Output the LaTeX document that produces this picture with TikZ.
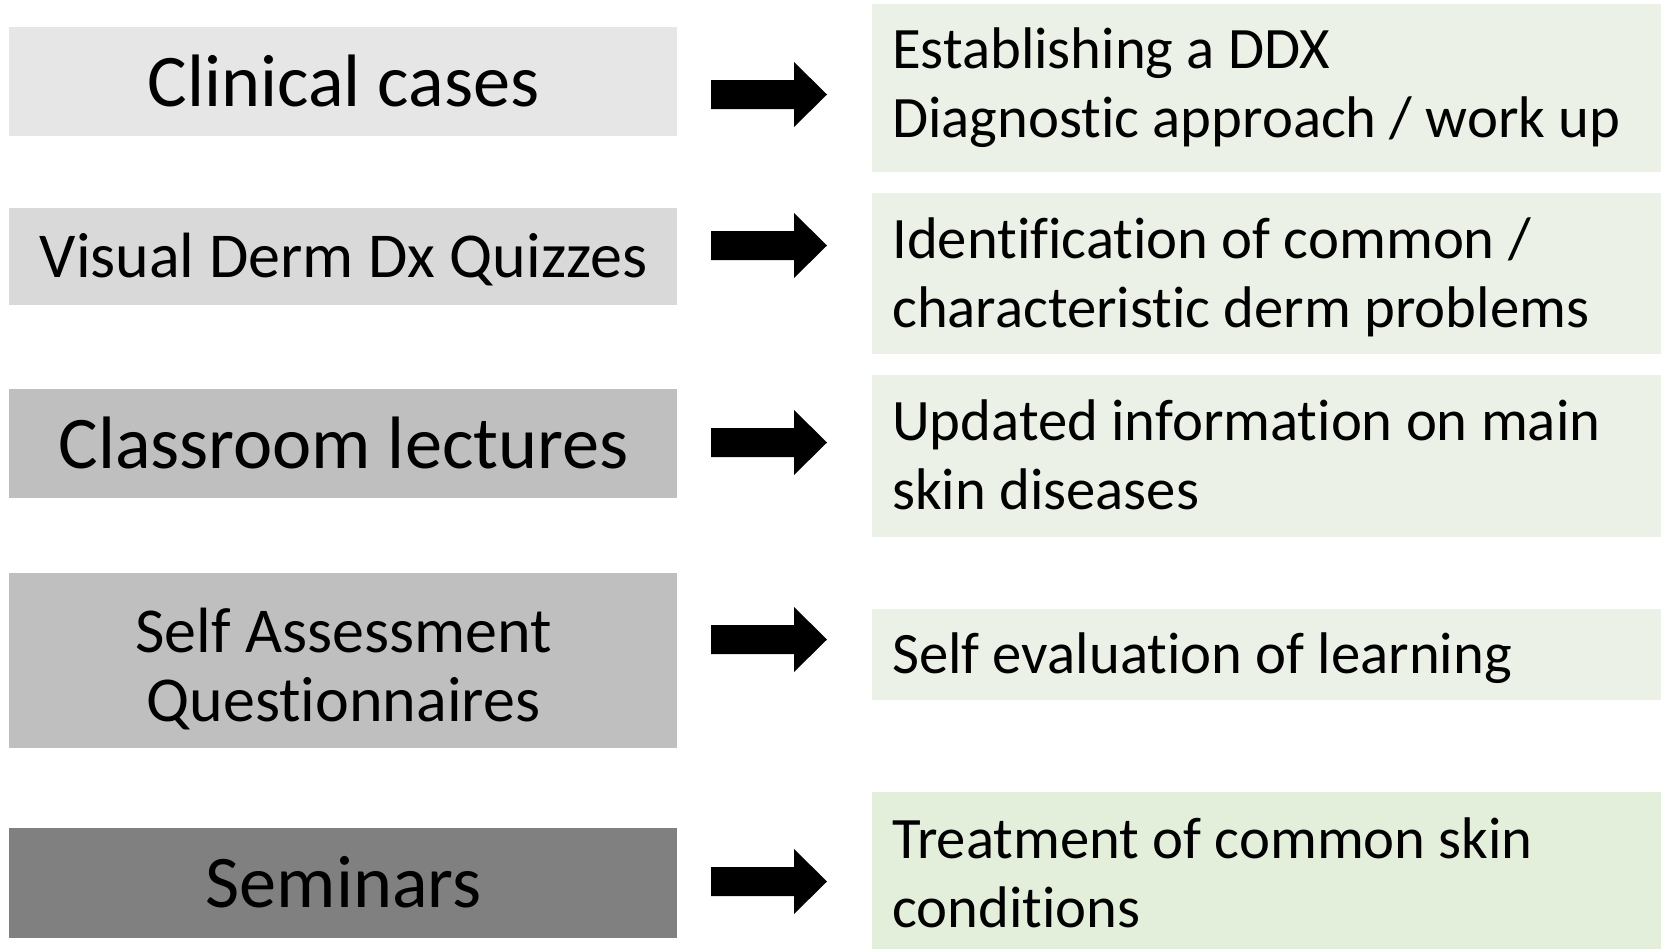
\documentclass[tikz,border=0pt]{standalone}
\usepackage{fontspec}
\setmainfont{Carlito}[RawFeature={-liga;-clig}]
\definecolor{gA}{HTML}{E6E6E6}
\definecolor{gB}{HTML}{D9D9D9}
\definecolor{gC}{HTML}{BFBFBF}
\definecolor{gD}{HTML}{808080}
\definecolor{grn}{HTML}{EBF1E6}
\definecolor{grnb}{HTML}{E3EFDB}
\begin{document}
\begin{tikzpicture}[x=1bp,y=-1bp,
  box/.style={draw=none, inner sep=0pt, outer sep=0pt},
  lbox/.style={box, minimum width=667bp},
  rbox/.style={box, anchor=north west, minimum width=789bp},
  bigtxt/.style={inner sep=0pt, anchor=base, align=center, font=\fontsize{74.3bp}{90bp}\selectfont},
  midtxt/.style={inner sep=0pt, anchor=base, align=center, font=\fontsize{64bp}{69bp}\selectfont},
  rtxt/.style={inner sep=0pt, anchor=base west, align=left, font=\fontsize{58.7bp}{69bp}\selectfont},
  blockarrow/.pic={\fill[black] (0,-14.5) -- (83,-14.5) -- (83,-32.5) -- (116,0) -- (83,32.5) -- (83,14.5) -- (0,14.5) -- cycle;}
]
\useasboundingbox (0,0) rectangle (1661,949);
% left boxes
\node[lbox, fill=gA, minimum height=109bp] (b1) at (343,81.5) {};
\node[lbox, fill=gB, minimum height=97bp]  (b2) at (343,256.5) {};
\node[lbox, fill=gC, minimum height=109bp] (b3) at (343,443.5) {};
\node[lbox, fill=gC, minimum height=175bp] (b4) at (343,660.5) {};
\node[lbox, fill=gD, minimum height=110bp] (b5) at (343,883) {};
% left texts (anchor = baseline of last line)
\node[bigtxt] (t1) at (343.5,106.5) {Clinical cases};
\node[midtxt] (t2) at (343.5,277) {Visual Derm Dx Quizzes};
\node[bigtxt] (t3) at (343.5,468) {Classroom lectures};
\node[midtxt] (t4) at (343.5,721) {Self Assessment\\Questionnaires};
\node[bigtxt] (t5) at (343.5,907) {Seminars};
% right boxes
\node[rbox, fill=grn,  minimum height=168bp] (r1) at (872,4) {};
\node[rbox, fill=grn,  minimum height=161bp] (r2) at (872,193) {};
\node[rbox, fill=grn,  minimum height=162bp] (r3) at (872,375) {};
\node[rbox, fill=grn,  minimum height=91bp]  (r4) at (872,609) {};
\node[rbox, fill=grnb, minimum height=157bp] (r5) at (872,792) {};
% right texts (anchor = baseline of last line)
\node[rtxt] (s1) at (892,137) {Establishing a DDX\\Diagnostic approach / work up};
\node[rtxt] (s2) at (892,327) {Identification of common /\\characteristic derm problems};
\node[rtxt] (s3) at (892,509) {Updated information on main\\skin diseases};
\node[rtxt] (s4) at (892,673) {Self evaluation of learning};
\node[rtxt] (s5) at (892,927) {Treatment of common skin\\conditions};
% block arrows
\pic at (711,94.5)  {blockarrow};
\pic at (711,245.5) {blockarrow};
\pic at (711,442.5) {blockarrow};
\pic at (711,639.5) {blockarrow};
\pic at (711,881.5) {blockarrow};
\end{tikzpicture}
\end{document}
